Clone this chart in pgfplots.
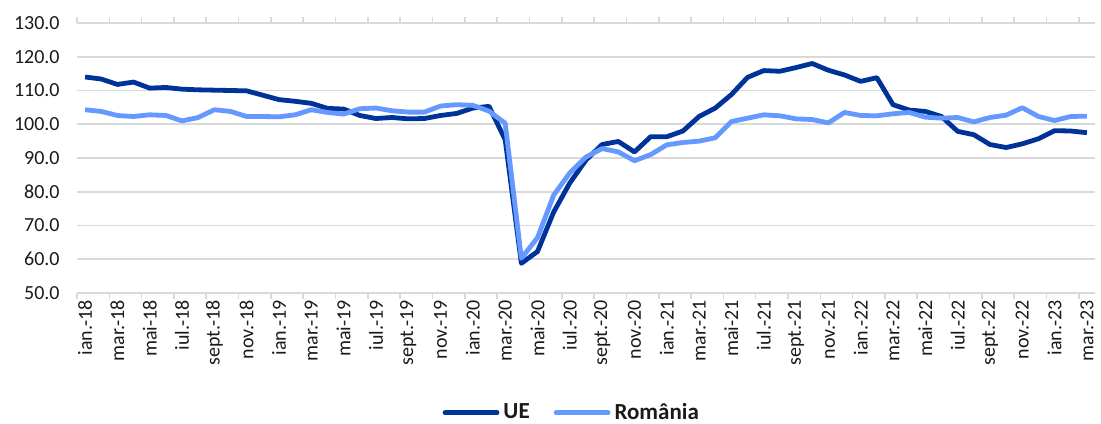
\documentclass[border=0pt]{standalone}
\usepackage{pgfplots}
\pgfplotsset{compat=1.18}
\usepackage{fontspec}
\setmainfont{Carlito}
\definecolor{ue}{HTML}{00339A}
\definecolor{ro}{HTML}{6699FF}
\definecolor{gridc}{HTML}{D9D9D9}
\definecolor{txt}{HTML}{1A1A1A}
\begin{document}
\begin{tikzpicture}
\begin{axis}[
  scale only axis, width=509pt, height=135pt,
  anchor=south west, at={(0,0)},
  xmin=-0.5, xmax=62.5, ymin=50, ymax=130,
  ytick={50,60,...,130},
  ymajorgrids, grid style={gridc, line width=0.8pt},
  axis line style={draw=none},
  major tick length=0pt,
  xtick={0,2,...,62},
  xticklabels={ian.-18,mar.-18,mai-18,iul.-18,sept.-18,nov.-18,ian.-19,mar.-19,mai-19,iul.-19,sept.-19,nov.-19,ian.-20,mar.-20,mai-20,iul.-20,sept.-20,nov.-20,ian.-21,mar.-21,mai-21,iul.-21,sept.-21,nov.-21,ian.-22,mar.-22,mai-22,iul.-22,sept.-22,nov.-22,ian.-23,mar.-23},
  minor xtick={-0.5,1.5,...,61.5},
  minor tick length=3pt, tick align=outside,
  minor tick style={gridc, line width=0.8pt},
  xticklabel style={font=\fontsize{10}{12}\selectfont, text=txt, yshift=-3.5pt, rotate=90, anchor=east, inner sep=0pt},
  yticklabel style={font=\fontsize{10}{12}\selectfont, text=txt, anchor=east, inner sep=0pt, xshift=-8.5pt,
    /pgf/number format/.cd, fixed, fixed zerofill, precision=1, assume math mode=true},
  legend style={at={(0.487,-0.444)}, anchor=center, draw=none, fill=none,
    legend columns=2, font=\fontsize{11.5}{13}\selectfont\bfseries, text=txt,
    /tikz/every even column/.append style={column sep=10pt}, inner sep=0pt},
  legend image code/.code={\draw[#1, line cap=round] (0pt,0pt) -- (26pt,0pt);},
  every axis plot/.append style={line width=2.4pt, line join=round, no marks},
]
\addplot[ue] table {
x y
0 114.0
1 113.4
2 111.8
3 112.5
4 110.7
5 110.9
6 110.4
7 110.2
8 110.1
9 110.0
10 109.9
11 108.6
12 107.3
13 106.8
14 106.2
15 104.7
16 104.5
17 102.6
18 101.7
19 102.0
20 101.6
21 101.7
22 102.6
23 103.2
24 104.8
25 105.3
26 95.4
27 58.8
28 62.3
29 74.0
30 82.6
31 89.4
32 94.0
33 94.9
34 91.8
35 96.3
36 96.3
37 98.0
38 102.3
39 104.8
40 108.8
41 113.9
42 115.9
43 115.7
44 116.8
45 118.0
46 116.0
47 114.6
48 112.7
49 113.8
50 105.8
51 104.2
52 103.8
53 102.3
54 97.9
55 96.9
56 94.0
57 93.1
58 94.2
59 95.7
60 98.1
61 98.0
62 97.5
};
\addlegendentry{UE}
\addplot[ro] table {
x y
0 104.3
1 103.8
2 102.6
3 102.3
4 102.8
5 102.6
6 101.0
7 102.0
8 104.3
9 103.8
10 102.3
11 102.3
12 102.2
13 102.8
14 104.3
15 103.5
16 103.0
17 104.6
18 104.8
19 104.0
20 103.6
21 103.6
22 105.4
23 105.8
24 105.6
25 103.9
26 100.3
27 60.3
28 66.4
29 79.0
30 85.6
31 90.3
32 92.8
33 91.8
34 89.2
35 91.0
36 93.9
37 94.6
38 95.0
39 96.0
40 100.8
41 101.8
42 102.8
43 102.5
44 101.6
45 101.4
46 100.4
47 103.5
48 102.6
49 102.5
50 103.1
51 103.5
52 102.1
53 101.8
54 102.0
55 100.7
56 102.0
57 102.7
58 104.9
59 102.3
60 101.1
61 102.3
62 102.4
};
\addlegendentry{România}
\end{axis}
\pgfresetboundingbox
\path (-38.5pt,-65pt) rectangle (512pt,146.5pt);
\end{tikzpicture}
\end{document}
